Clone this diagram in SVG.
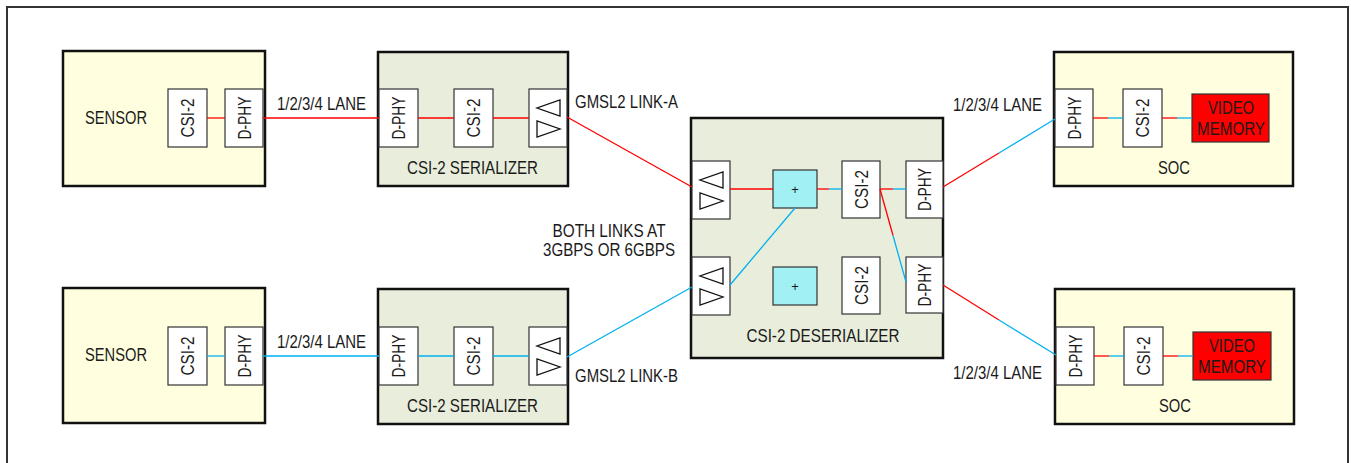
<svg xmlns="http://www.w3.org/2000/svg" xmlns:xlink="http://www.w3.org/1999/xlink" width="1351" height="463" viewBox="0 0 1351 463">
<style>
.t{font-family:"Liberation Sans",Arial,sans-serif;font-size:18px;fill:#1a1a1a}
.m{text-anchor:middle}
.big{stroke:#111;stroke-width:2.5}
.yel{fill:#ffffdf}
.grn{fill:#e9eedc}
.sm{fill:#fff;stroke:#333;stroke-width:1.2}
.plus{fill:#a0f0f4;stroke:#333;stroke-width:1.2}
.vm{fill:#ff0000;stroke:#333;stroke-width:1.2}
.r{stroke:#ff0000;stroke-width:1.3;fill:none}
.b{stroke:#00b0f0;stroke-width:1.3;fill:none}
.tri{fill:none;stroke:#111;stroke-width:1.3}
</style>
<defs>
<g id="xcvr">
<rect class="sm" x="0" y="0" width="38" height="58"/>
<polygon class="tri" points="31,11 31,27 8,19"/>
<polygon class="tri" points="8,32 8,48 31,40"/>
</g>
</defs>
<rect x="7" y="7" width="1341" height="475" fill="none" stroke="#333" stroke-width="2"/>

<g id="sensor1">
<rect class="big yel" x="63" y="51" width="202" height="135"/>
<text class="t m" x="116" y="124" textLength="62" lengthAdjust="spacingAndGlyphs">SENSOR</text>
<rect class="sm" x="168" y="89" width="39" height="58"/>
<text class="t m" transform="translate(193.5,118) rotate(-90)" textLength="39" lengthAdjust="spacingAndGlyphs">CSI-2</text>
<rect class="sm" x="225" y="89" width="38" height="58"/>
<text class="t m" transform="translate(250.5,118) rotate(-90)" textLength="43" lengthAdjust="spacingAndGlyphs">D-PHY</text>
</g>

<g id="sensor2">
<rect class="big yel" x="63" y="288" width="202" height="135"/>
<text class="t m" x="116" y="361" textLength="62" lengthAdjust="spacingAndGlyphs">SENSOR</text>
<rect class="sm" x="168" y="327" width="39" height="58"/>
<text class="t m" transform="translate(193.5,356) rotate(-90)" textLength="39" lengthAdjust="spacingAndGlyphs">CSI-2</text>
<rect class="sm" x="225" y="327" width="38" height="58"/>
<text class="t m" transform="translate(250.5,356) rotate(-90)" textLength="43" lengthAdjust="spacingAndGlyphs">D-PHY</text>
</g>

<g id="serializer1">
<rect class="big grn" x="378" y="52" width="190" height="134"/>
<rect class="sm" x="379" y="89" width="39" height="58"/>
<text class="t m" transform="translate(405,118) rotate(-90)" textLength="43" lengthAdjust="spacingAndGlyphs">D-PHY</text>
<rect class="sm" x="454" y="89" width="39" height="58"/>
<text class="t m" transform="translate(480,118) rotate(-90)" textLength="39" lengthAdjust="spacingAndGlyphs">CSI-2</text>
<use xlink:href="#xcvr" x="529" y="89"/>
<text class="t m" x="472.5" y="174" textLength="131" lengthAdjust="spacingAndGlyphs">CSI-2 SERIALIZER</text>
</g>

<g id="serializer2">
<rect class="big grn" x="378" y="289" width="190" height="135"/>
<rect class="sm" x="379" y="327" width="39" height="58"/>
<text class="t m" transform="translate(405,356) rotate(-90)" textLength="43" lengthAdjust="spacingAndGlyphs">D-PHY</text>
<rect class="sm" x="454" y="327" width="39" height="58"/>
<text class="t m" transform="translate(480,356) rotate(-90)" textLength="39" lengthAdjust="spacingAndGlyphs">CSI-2</text>
<use xlink:href="#xcvr" x="529" y="327"/>
<text class="t m" x="472.5" y="412" textLength="131" lengthAdjust="spacingAndGlyphs">CSI-2 SERIALIZER</text>
</g>

<g id="deserializer">
<rect class="big grn" x="691" y="118" width="252" height="240"/>
<use xlink:href="#xcvr" x="692" y="161"/>
<use xlink:href="#xcvr" x="692" y="257"/>
<rect class="plus" x="773" y="170" width="44" height="38"/>
<text class="t m" x="795" y="194" style="font-size:13px">+</text>
<rect class="plus" x="773" y="267" width="44" height="38"/>
<text class="t m" x="795" y="291" style="font-size:13px">+</text>
<rect class="sm" x="842" y="161" width="38" height="57"/>
<text class="t m" transform="translate(867.5,189.5) rotate(-90)" textLength="39" lengthAdjust="spacingAndGlyphs">CSI-2</text>
<rect class="sm" x="842" y="257" width="38" height="57"/>
<text class="t m" transform="translate(867.5,285.5) rotate(-90)" textLength="39" lengthAdjust="spacingAndGlyphs">CSI-2</text>
<rect class="sm" x="906" y="161" width="37" height="57"/>
<text class="t m" transform="translate(931,189.5) rotate(-90)" textLength="43" lengthAdjust="spacingAndGlyphs">D-PHY</text>
<rect class="sm" x="906" y="257" width="37" height="56"/>
<text class="t m" transform="translate(931,285) rotate(-90)" textLength="43" lengthAdjust="spacingAndGlyphs">D-PHY</text>
<text class="t m" x="823" y="342" textLength="153" lengthAdjust="spacingAndGlyphs">CSI-2 DESERIALIZER</text>
</g>

<g id="soc1">
<rect class="big yel" x="1054" y="52" width="239" height="134"/>
<rect class="sm" x="1055" y="89" width="38" height="58"/>
<text class="t m" transform="translate(1080.5,118) rotate(-90)" textLength="43" lengthAdjust="spacingAndGlyphs">D-PHY</text>
<rect class="sm" x="1123" y="89" width="39" height="58"/>
<text class="t m" transform="translate(1149,118) rotate(-90)" textLength="39" lengthAdjust="spacingAndGlyphs">CSI-2</text>
<rect class="vm" x="1192" y="94" width="77" height="48"/>
<text class="t m" x="1231" y="114" textLength="46" lengthAdjust="spacingAndGlyphs">VIDEO</text>
<text class="t m" x="1231" y="135" textLength="68" lengthAdjust="spacingAndGlyphs">MEMORY</text>
<text class="t m" x="1174" y="174" textLength="32" lengthAdjust="spacingAndGlyphs">SOC</text>
</g>

<g id="soc2">
<rect class="big yel" x="1055" y="289" width="239" height="135"/>
<rect class="sm" x="1056" y="327" width="38" height="58"/>
<text class="t m" transform="translate(1081.5,356) rotate(-90)" textLength="43" lengthAdjust="spacingAndGlyphs">D-PHY</text>
<rect class="sm" x="1124" y="327" width="39" height="58"/>
<text class="t m" transform="translate(1150,356) rotate(-90)" textLength="39" lengthAdjust="spacingAndGlyphs">CSI-2</text>
<rect class="vm" x="1193" y="332" width="78" height="48"/>
<text class="t m" x="1232" y="352" textLength="46" lengthAdjust="spacingAndGlyphs">VIDEO</text>
<text class="t m" x="1232" y="373" textLength="68" lengthAdjust="spacingAndGlyphs">MEMORY</text>
<text class="t m" x="1175" y="412" textLength="32" lengthAdjust="spacingAndGlyphs">SOC</text>
</g>

<g id="labels">
<text class="t" x="277" y="110" textLength="89" lengthAdjust="spacingAndGlyphs">1/2/3/4 LANE</text>
<text class="t" x="277" y="348" textLength="89" lengthAdjust="spacingAndGlyphs">1/2/3/4 LANE</text>
<text class="t" x="575" y="108" textLength="103" lengthAdjust="spacingAndGlyphs">GMSL2 LINK-A</text>
<text class="t" x="575" y="382" textLength="103" lengthAdjust="spacingAndGlyphs">GMSL2 LINK-B</text>
<text class="t m" x="609" y="237" textLength="113" lengthAdjust="spacingAndGlyphs">BOTH LINKS AT</text>
<text class="t m" x="609" y="256" textLength="132" lengthAdjust="spacingAndGlyphs">3GBPS OR 6GBPS</text>
<text class="t" x="953" y="111" textLength="89" lengthAdjust="spacingAndGlyphs">1/2/3/4 LANE</text>
<text class="t" x="953" y="379" textLength="89" lengthAdjust="spacingAndGlyphs">1/2/3/4 LANE</text>
</g>

<g id="connectors">
<line class="r" x1="207" y1="118" x2="225" y2="118"/>
<line class="r" x1="263" y1="118" x2="379" y2="118"/>
<line class="r" x1="418" y1="118" x2="454" y2="118"/>
<line class="r" x1="493" y1="118" x2="529" y2="118"/>
<line class="r" x1="567" y1="117" x2="692" y2="187"/>

<line class="b" x1="207" y1="356" x2="225" y2="356"/>
<line class="b" x1="263" y1="356" x2="379" y2="356"/>
<line class="b" x1="418" y1="356" x2="454" y2="356"/>
<line class="b" x1="493" y1="356" x2="529" y2="356"/>
<line class="b" x1="567" y1="357" x2="692" y2="287"/>

<line class="r" x1="730" y1="189" x2="773" y2="189"/>
<line class="b" x1="795" y1="208" x2="730" y2="285"/>
<line class="r" x1="817" y1="189" x2="829" y2="189"/>
<line class="b" x1="829" y1="189" x2="842" y2="189"/>
<line class="r" x1="880" y1="189" x2="893" y2="189"/>
<line class="b" x1="893" y1="189" x2="906" y2="189"/>
<line class="r" x1="880" y1="189" x2="893" y2="235.5"/>
<line class="b" x1="893" y1="235.5" x2="906" y2="282"/>

<line class="r" x1="943" y1="187" x2="999" y2="153"/>
<line class="b" x1="999" y1="153" x2="1055" y2="119"/>
<line class="r" x1="943" y1="285" x2="999" y2="320"/>
<line class="b" x1="999" y1="320" x2="1056" y2="355"/>

<line class="r" x1="1093" y1="118" x2="1108" y2="118"/>
<line class="b" x1="1108" y1="118" x2="1123" y2="118"/>
<line class="r" x1="1162" y1="118" x2="1177" y2="118"/>
<line class="b" x1="1177" y1="118" x2="1192" y2="118"/>
<line class="r" x1="1094" y1="356" x2="1109" y2="356"/>
<line class="b" x1="1109" y1="356" x2="1124" y2="356"/>
<line class="r" x1="1163" y1="356" x2="1178" y2="356"/>
<line class="b" x1="1178" y1="356" x2="1193" y2="356"/>
</g>
</svg>
